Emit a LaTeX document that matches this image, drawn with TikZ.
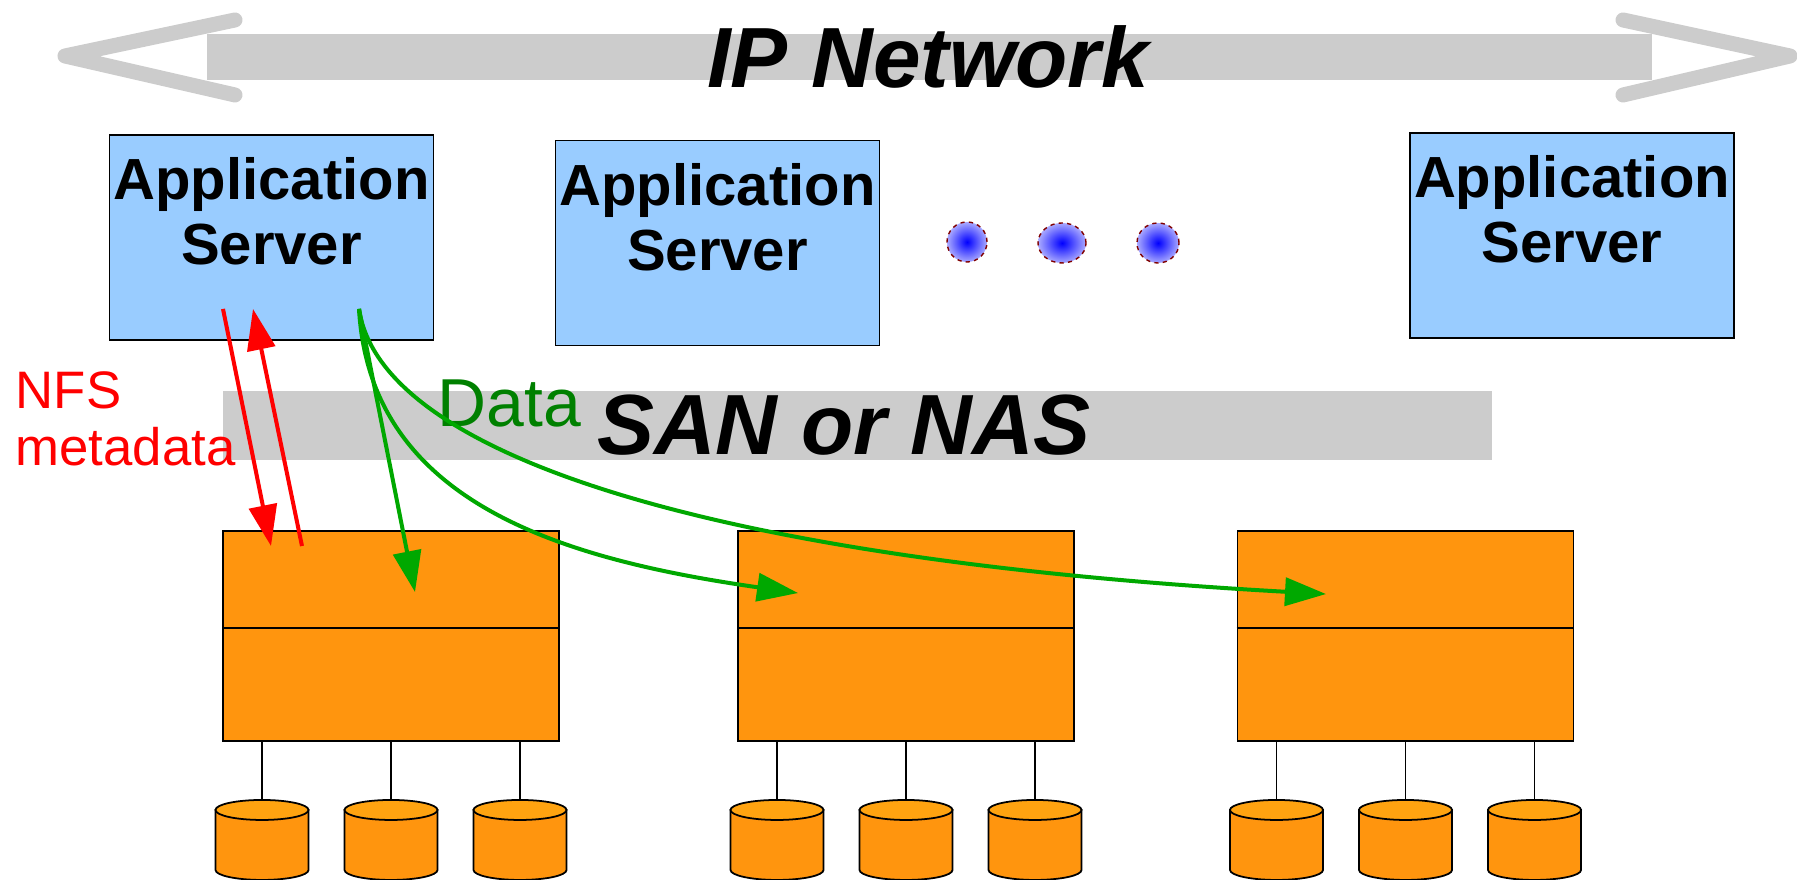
\documentclass[tikz,border=0pt]{standalone}
\usepackage{fontspec}
\setmainfont{Liberation Sans}
\usepackage{xcolor}
\usepackage{tikz}
\usetikzlibrary{shapes,arrows.meta,positioning}

\definecolor{appblue}{RGB}{153,204,255}
\definecolor{bargray}{RGB}{204,204,204}
\definecolor{storeorange}{RGB}{255,149,14}
\definecolor{disklid}{RGB}{255,163,16}
\definecolor{flowgreen}{RGB}{0,168,0}
\definecolor{labelgreen}{RGB}{0,128,0}
\definecolor{blobred}{RGB}{128,0,0}

\begin{document}
\begin{tikzpicture}[
    x=0.01cm, y=0.01cm,
    appbox/.style={rectangle, draw, fill=appblue, line width=0.5pt, minimum width=3.24cm, minimum height=2.05cm, inner sep=0pt},
    apptext/.style={align=center, font=\fontsize{16.5}{18.5}\selectfont\bfseries, inner sep=0pt},
    storebox/.style={rectangle, draw, fill=storeorange, line width=0.5pt, minimum width=3.36cm, minimum height=2.10cm, inner sep=0pt},
    netbar/.style={rectangle, fill=bargray, inner sep=0pt},
    bigtitle/.style={font=\fontsize{24.3}{28}\selectfont\bfseries\itshape, inner sep=0pt},
    blob/.style={ellipse, draw=blobred, dash pattern=on 1.2pt off 1.2pt, line width=0.4pt, minimum height=0.40cm, inner sep=0pt, inner color=blue, outer color={rgb,255:red,170;green,170;blue,255}},
    nfsflow/.style={draw=red, line width=0.04cm, -{Triangle[length=0.41cm, width=0.28cm]}},
    dataflow/.style={draw=flowgreen, line width=0.04cm, -{Triangle[length=0.41cm, width=0.28cm]}},
    diskbody/.style={draw, fill=storeorange, line width=0.5pt},
    chevron/.style={draw=bargray, line width=0.15cm, line cap=round, line join=round}
]
\useasboundingbox (0,0) rectangle (1797,880);

% IP network (top)
\node[netbar, minimum width=14.45cm, minimum height=0.46cm] (ipnet) at (929.5,823) {};
\draw[chevron] (235,860) -- (65,824) -- (235,785);
\draw[chevron] (1623,860) -- (1790,824) -- (1623,785);
\node[bigtitle] (iplabel) at (928,823) {IP Network};

% Application servers
\node[appbox] (app1) at (271.5,642.5) {};
\node[apptext] (app1txt) at ([yshift=0.26cm]app1.center) {Application\\Server};
\node[appbox] (app2) at (717.5,637) {};
\node[apptext] (app2txt) at ([yshift=0.26cm]app2.center) {Application\\Server};
\node[appbox] (app3) at (1572,644.5) {};
\node[apptext] (app3txt) at ([yshift=0.26cm]app3.center) {Application\\Server};

% more servers
\node[blob, minimum width=0.40cm] (blob1) at (967,638) {};
\node[blob, minimum width=0.48cm] (blob2) at (1062,637) {};
\node[blob, minimum width=0.42cm] (blob3) at (1158,637) {};

% SAN / NAS
\node[netbar, minimum width=12.69cm, minimum height=0.69cm] (san) at (857.5,454.5) {};
\node[bigtitle] (sanlabel) at (844,455) {SAN or NAS};

% Storage boxes
\node[storebox] (st1) at (391,244) {};
\node[storebox] (st2) at (906,244) {};
\node[storebox] (st3) at (1405.5,244) {};
\foreach \s in {st1,st2,st3} {
  \draw[line width=0.5pt] ([yshift=-0.98cm]\s.north west) -- ([yshift=-0.98cm]\s.north east);
  \foreach \dx [count=\i] in {-129,0,129} {
    \coordinate (\s-d\i) at ([xshift=\dx*0.01cm, yshift=-0.58cm]\s.south);
    \draw[diskbody] ([shift={(-46.5,-10)}]\s-d\i) -- ++(0,-60) arc[start angle=180, end angle=360, x radius=0.465cm, y radius=0.1cm] -- ++(0,60) -- cycle;
    \draw[diskbody, fill=disklid] ([yshift=-0.1cm]\s-d\i) ellipse[x radius=0.465cm, y radius=0.1cm];
    \draw[line width=0.5pt] (\s.south -| \s-d\i) -- (\s-d\i);
  }
}

% Labels
\node[anchor=base west, inner sep=0pt, text=labelgreen, font=\fontsize{19.3}{22}\selectfont] (datalbl) at (437,453) {Data};
\node[anchor=north west, inner sep=0pt, align=left, text=red, font=\fontsize{15}{16.2}\selectfont] (nfslbl) at (15,509) {NFS\\metadata};

% NFS metadata flows
\draw[nfsflow] ([shift={(-48.5,32)}]app1.south) -- ([shift={(-120,-16)}]st1.north);
\draw[nfsflow] ([shift={(-89,-16)}]st1.north) -- ([shift={(-18.5,32)}]app1.south);

% Data flows
\draw[dataflow] ([shift={(87.5,32)}]app1.south) -- ([shift={(24,-62)}]st1.north);
\draw[dataflow] ([shift={(87.5,32)}]app1.south) .. controls +(11,-193) and +(-238,34) .. ([shift={(-108,-63)}]st2.north);
\draw[dataflow] ([shift={(87.5,32)}]app1.south) .. controls +(21,-143) and +(-626,35) .. ([shift={(-79.5,-64)}]st3.north);

\end{tikzpicture}
\end{document}
